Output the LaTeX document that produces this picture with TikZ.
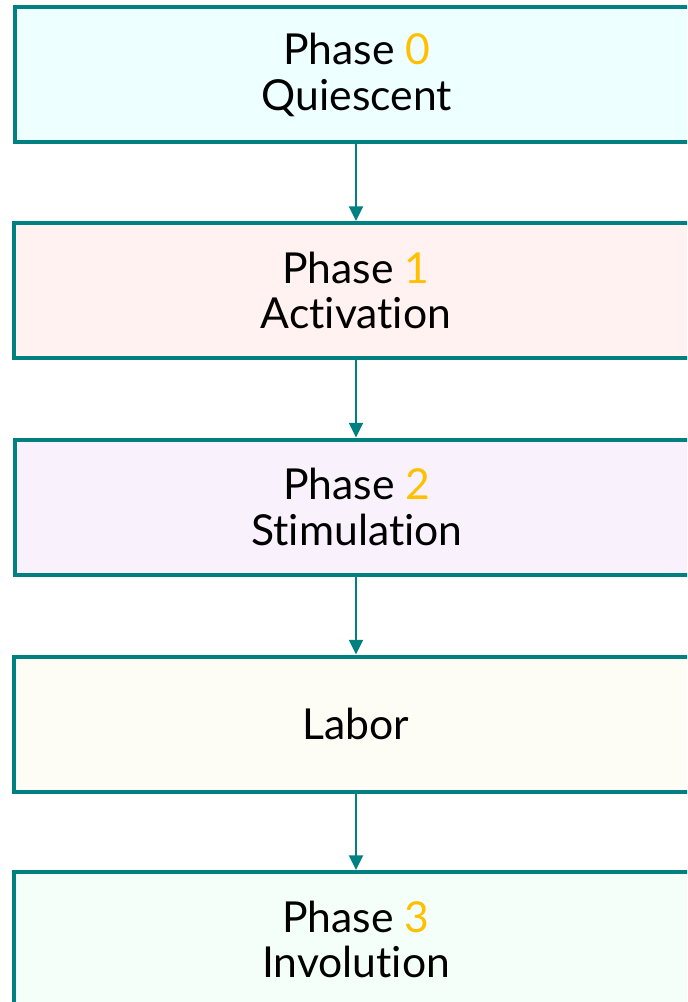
\documentclass[tikz,border=0pt]{standalone}
\usepackage{fontspec}
\setmainfont{Lato}[Ligatures={NoCommon}]
\usetikzlibrary{arrows.meta}
\definecolor{teal1}{HTML}{008080}
\definecolor{gold}{HTML}{FFC000}
\definecolor{fA}{HTML}{EEFFFF}
\definecolor{fB}{HTML}{FFF2F1}
\definecolor{fC}{HTML}{F9F2FD}
\definecolor{fD}{HTML}{FEFDF5}
\definecolor{fE}{HTML}{F5FFF9}
\tikzset{
  phasebox/.style={draw=teal1, line width=3pt, rectangle, minimum width=513pt, minimum height=101.25pt, anchor=north west, inner sep=0pt, align=center, font=\fontsize{32}{34}\selectfont, text=black},
  flow/.style={draw=teal1, line width=1.5pt, -{Triangle[length=11pt,width=10.5pt]}}
}
\begin{document}
\begin{tikzpicture}[x=0.75pt,y=-0.75pt]
\useasboundingbox (0,0) rectangle (687,1002);
\clip (0,0) rectangle (687,1002);
\node[phasebox, fill=fA] (p0) at (13,5.5) {Phase \textcolor{gold}{0}\\Quiescent};
\node[phasebox, fill=fB] (p1) at (12,221) {Phase \textcolor{gold}{1}\\Activation};
\node[phasebox, fill=fC] (p2) at (13,437.5) {Phase \textcolor{gold}{2}\\Stimulation};
\node[phasebox, fill=fD] (lab) at (12,654.5) {Labor};
\node[phasebox, fill=fE] (p3) at (12,870) {Phase \textcolor{gold}{3}\\Involution};
\draw[flow] (p0.south west) ++(343,0) coordinate (a0) -- (a0 |- p1.north);
\draw[flow] (p1.south west) ++(344,0) coordinate (a1) -- (a1 |- p2.north);
\draw[flow] (p2.south west) ++(343,0) coordinate (a2) -- (a2 |- lab.north);
\draw[flow] (lab.south west) ++(344,0) coordinate (a3) -- (a3 |- p3.north);
\end{tikzpicture}
\end{document}
